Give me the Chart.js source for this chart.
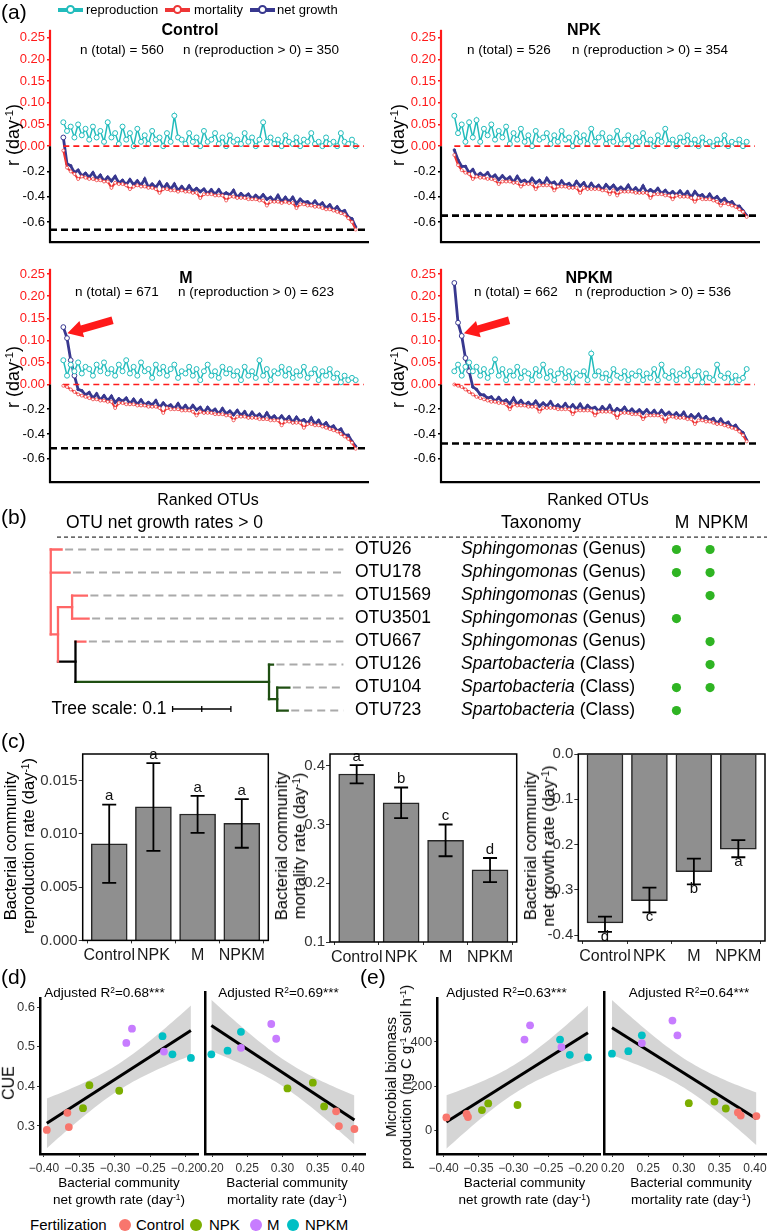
<!DOCTYPE html>
<html><head><meta charset="utf-8"><title>OTU growth rates</title>
<script src="https://cdn.jsdelivr.net/npm/chart.js@4.4.1/dist/chart.umd.min.js"></script>
<style>
html,body{margin:0;padding:0;background:#fff}
body{position:relative;width:767px;height:1231px;overflow:hidden;font-family:"Liberation Sans",Arial,Helvetica,sans-serif;color:#000}
canvas{position:absolute;display:block}
.t{position:absolute;white-space:nowrap;line-height:1.15}
.t sup{font-size:0.62em;position:relative;top:-0.5em;vertical-align:baseline;line-height:0}
.ab{position:absolute}
</style></head><body>
<script>
// ================= DATA =================
// (a) ranked OTU rates (day^-1), sampled along the rank axis
const ctrlRep = [0.055,0.035,0.045,0.02,0.05,0.025,0.04,0.015,0.045,0.02,
 0.035,0.01,0.055,0.02,0.03,0.005,0.045,0.015,0.03,0.0,
 0.04,0.01,0.025,0.005,0.035,0.015,0.02,0.0,0.03,0.01,
 0.07,0.02,0.015,0.005,0.03,0.01,0.02,0.0,0.035,0.01,
 0.015,0.03,0.005,0.02,0.0,0.025,0.01,0.015,0.005,0.03,
 0.01,0.02,0.0,0.015,0.055,0.01,0.02,0.005,0.015,0.0,
 0.025,0.01,0.005,0.02,0.0,0.015,0.01,0.03,0.005,0.01,
 0.0,0.02,0.005,0.01,0.0,0.03,0.01,0.005,0.015,0.0];
const ctrlMort = [-0.035,-0.17,-0.2,-0.22,-0.26,-0.24,-0.25,-0.26,-0.26,-0.27,
 -0.27,-0.28,-0.28,-0.33,-0.29,-0.3,-0.3,-0.31,-0.34,-0.32,
 -0.31,-0.32,-0.32,-0.33,-0.33,-0.34,-0.37,-0.34,-0.34,-0.35,
 -0.35,-0.36,-0.35,-0.36,-0.36,-0.37,-0.37,-0.41,-0.38,-0.38,
 -0.38,-0.39,-0.39,-0.39,-0.43,-0.4,-0.4,-0.41,-0.41,-0.41,
 -0.42,-0.42,-0.42,-0.43,-0.43,-0.47,-0.44,-0.44,-0.44,-0.45,
 -0.44,-0.45,-0.45,-0.49,-0.46,-0.46,-0.47,-0.47,-0.48,-0.48,
 -0.49,-0.5,-0.5,-0.51,-0.52,-0.53,-0.54,-0.57,-0.6,-0.66];
const ctrlNet = [0.02,-0.14,-0.155,-0.21,-0.19,-0.235,-0.215,-0.245,-0.21,-0.26,
 -0.23,-0.275,-0.245,-0.275,-0.24,-0.29,-0.27,-0.305,-0.265,-0.305,
 -0.275,-0.31,-0.26,-0.325,-0.3,-0.325,-0.285,-0.335,-0.3,-0.34,
 -0.3,-0.35,-0.32,-0.355,-0.315,-0.355,-0.335,-0.36,-0.34,-0.375,
 -0.345,-0.38,-0.345,-0.385,-0.37,-0.385,-0.35,-0.405,-0.375,-0.4,
 -0.38,-0.415,-0.39,-0.415,-0.385,-0.42,-0.405,-0.435,-0.39,-0.44,
 -0.405,-0.44,-0.405,-0.455,-0.42,-0.445,-0.44,-0.465,-0.435,-0.47,
 -0.45,-0.49,-0.465,-0.505,-0.48,-0.52,-0.51,-0.56,-0.575,-0.64];
const npkRep = [0.07,0.03,0.05,0.01,0.055,0.02,0.06,0.01,0.04,0.025,
 0.05,0.015,0.035,0.02,0.045,0.005,0.03,0.015,0.04,0.01,
 0.025,0.0,0.035,0.015,0.02,0.03,0.005,0.025,0.01,0.035,
 0.015,0.02,0.0,0.03,0.01,0.025,0.005,0.04,0.01,0.02,
 0.03,0.005,0.02,0.01,0.035,0.005,0.015,0.025,0.0,0.02,
 0.01,0.03,0.005,0.015,0.0,0.025,0.01,0.04,0.005,0.015,
 0.0,0.02,0.01,0.025,0.005,0.015,0.0,0.02,0.005,0.01,
 0.0,0.015,0.005,0.025,0.0,0.01,0.005,0.015,0.0,0.01];
const npkMort = [-0.07,-0.15,-0.19,-0.21,-0.22,-0.26,-0.24,-0.25,-0.25,-0.26,
 -0.26,-0.27,-0.3,-0.28,-0.28,-0.28,-0.29,-0.29,-0.32,-0.3,
 -0.3,-0.3,-0.34,-0.31,-0.31,-0.31,-0.31,-0.35,-0.32,-0.32,
 -0.32,-0.33,-0.33,-0.33,-0.37,-0.33,-0.34,-0.34,-0.34,-0.34,
 -0.35,-0.35,-0.38,-0.35,-0.39,-0.36,-0.36,-0.36,-0.36,-0.37,
 -0.37,-0.37,-0.37,-0.41,-0.38,-0.38,-0.38,-0.39,-0.39,-0.42,
 -0.39,-0.4,-0.4,-0.4,-0.41,-0.44,-0.41,-0.42,-0.42,-0.42,
 -0.43,-0.44,-0.47,-0.45,-0.46,-0.47,-0.48,-0.5,-0.52,-0.56];
const npkNet = [-0.03,-0.11,-0.16,-0.16,-0.21,-0.185,-0.235,-0.215,-0.235,-0.21,
 -0.25,-0.23,-0.265,-0.235,-0.265,-0.245,-0.285,-0.24,-0.28,-0.27,
 -0.295,-0.255,-0.29,-0.27,-0.305,-0.255,-0.295,-0.285,-0.315,-0.275,
 -0.31,-0.295,-0.325,-0.28,-0.315,-0.29,-0.335,-0.295,-0.33,-0.31,
 -0.345,-0.305,-0.335,-0.31,-0.345,-0.325,-0.35,-0.31,-0.355,-0.33,
 -0.36,-0.315,-0.365,-0.345,-0.365,-0.335,-0.375,-0.35,-0.38,-0.36,
 -0.385,-0.355,-0.39,-0.36,-0.405,-0.36,-0.395,-0.385,-0.415,-0.38,
 -0.42,-0.4,-0.435,-0.415,-0.45,-0.44,-0.475,-0.475,-0.51,-0.55];
const mRep = [0.055,0.02,0.045,0.03,0.05,0.025,0.04,0.035,0.02,0.045,
 0.03,0.05,0.025,0.035,0.02,0.045,0.03,0.055,0.025,0.04,
 0.02,0.05,0.03,0.035,0.015,0.045,0.025,0.04,0.02,0.035,
 0.045,0.015,0.03,0.025,0.04,0.02,0.035,0.01,0.03,0.045,
 0.02,0.03,0.015,0.04,0.025,0.035,0.02,0.03,0.01,0.04,
 0.02,0.03,0.015,0.055,0.02,0.035,0.01,0.03,0.025,0.04,
 0.02,0.035,0.015,0.03,0.02,0.04,0.015,0.025,0.035,0.01,
 0.03,0.02,0.035,0.015,0.025,0.005,0.02,0.01,0.015,0.01];
const mMort = [-0.01,-0.02,-0.04,-0.06,-0.08,-0.09,-0.1,-0.11,-0.12,-0.12,
 -0.13,-0.13,-0.14,-0.14,-0.19,-0.15,-0.15,-0.16,-0.16,-0.16,
 -0.17,-0.17,-0.17,-0.18,-0.18,-0.18,-0.19,-0.23,-0.19,-0.2,
 -0.2,-0.2,-0.21,-0.21,-0.21,-0.22,-0.25,-0.22,-0.23,-0.23,
 -0.23,-0.24,-0.24,-0.24,-0.25,-0.25,-0.29,-0.26,-0.26,-0.26,
 -0.27,-0.27,-0.27,-0.28,-0.28,-0.28,-0.29,-0.29,-0.29,-0.33,
 -0.3,-0.3,-0.31,-0.31,-0.31,-0.35,-0.32,-0.32,-0.33,-0.33,
 -0.34,-0.35,-0.36,-0.37,-0.38,-0.4,-0.42,-0.44,-0.47,-0.52];
const mNet = [0.13,0.105,0.055,0.02,-0.04,-0.05,-0.085,-0.065,-0.11,-0.075,
 -0.125,-0.09,-0.13,-0.095,-0.145,-0.115,-0.135,-0.11,-0.155,-0.12,
 -0.16,-0.125,-0.165,-0.145,-0.165,-0.13,-0.185,-0.15,-0.18,-0.165,
 -0.195,-0.155,-0.2,-0.17,-0.205,-0.17,-0.205,-0.185,-0.225,-0.185,
 -0.22,-0.2,-0.235,-0.195,-0.235,-0.215,-0.245,-0.21,-0.25,-0.22,
 -0.265,-0.225,-0.26,-0.24,-0.275,-0.23,-0.275,-0.255,-0.285,-0.255,
 -0.29,-0.26,-0.305,-0.265,-0.3,-0.285,-0.315,-0.27,-0.32,-0.29,
 -0.335,-0.31,-0.35,-0.335,-0.375,-0.36,-0.41,-0.41,-0.46,-0.5];
const npkmRep = [0.03,0.045,0.02,0.04,0.05,0.03,0.04,0.02,0.035,0.015,
 0.03,0.057,0.02,0.035,0.01,0.03,0.02,0.04,0.015,0.03,
 0.025,0.01,0.035,0.02,0.045,0.015,0.03,0.01,0.025,0.035,
 0.015,0.03,0.005,0.025,0.02,0.03,0.01,0.07,0.02,0.03,
 0.015,0.025,0.01,0.035,0.02,0.015,0.03,0.01,0.025,0.02,
 0.03,0.01,0.025,0.015,0.035,0.01,0.045,0.02,0.015,0.03,
 0.01,0.025,0.02,0.035,0.01,0.02,0.03,0.005,0.025,0.015,
 0.01,0.045,0.02,0.015,0.025,0.005,0.02,0.01,0.015,0.035];
const npkmMort = [0.0,-0.01,-0.02,-0.04,-0.06,-0.08,-0.1,-0.11,-0.12,-0.13,
 -0.14,-0.14,-0.15,-0.15,-0.16,-0.2,-0.16,-0.17,-0.17,-0.17,
 -0.18,-0.18,-0.18,-0.22,-0.19,-0.19,-0.19,-0.19,-0.2,-0.2,
 -0.2,-0.2,-0.24,-0.21,-0.21,-0.21,-0.21,-0.21,-0.25,-0.22,
 -0.22,-0.22,-0.22,-0.23,-0.27,-0.23,-0.23,-0.23,-0.24,-0.24,
 -0.24,-0.28,-0.25,-0.25,-0.25,-0.25,-0.26,-0.3,-0.26,-0.26,
 -0.27,-0.27,-0.27,-0.28,-0.28,-0.32,-0.29,-0.29,-0.3,-0.3,
 -0.31,-0.32,-0.32,-0.33,-0.34,-0.35,-0.36,-0.38,-0.41,-0.46];
const npkmNet = [0.23,0.14,0.11,0.06,0.03,-0.02,-0.04,-0.08,-0.085,-0.11,
 -0.1,-0.135,-0.105,-0.14,-0.125,-0.155,-0.11,-0.16,-0.13,-0.165,
 -0.145,-0.17,-0.135,-0.175,-0.15,-0.175,-0.14,-0.185,-0.165,-0.19,
 -0.155,-0.195,-0.165,-0.2,-0.16,-0.205,-0.17,-0.195,-0.185,-0.215,
 -0.18,-0.21,-0.17,-0.225,-0.195,-0.215,-0.185,-0.225,-0.2,-0.23,
 -0.205,-0.235,-0.205,-0.24,-0.21,-0.245,-0.21,-0.245,-0.225,-0.255,
 -0.23,-0.26,-0.225,-0.275,-0.245,-0.27,-0.24,-0.285,-0.26,-0.29,
 -0.275,-0.315,-0.28,-0.32,-0.305,-0.345,-0.33,-0.37,-0.39,-0.45];
const panelNames = ['Control','NPK','M','NPKM'];
const nTotal = [560, 526, 671, 662];
const nRepro = [350, 354, 623, 536];
const netThreshold = [-0.662, -0.55, -0.516, -0.477];
const rTicks = [-0.6, -0.4, -0.2, 0, 0.05, 0.1, 0.15, 0.2, 0.25];

// (b) tree: [node, parent, branch length]
const treeNodes = [
 ['A', null, 0],
 ['OTU26','A',0.0186], ['OTU178','A',0.0322], ['B','A',0.0124],
 ['C','B',0.0242], ['OTU1569','C',0.0254], ['OTU3501','C',0.0283],
 ['D','B',0.0300], ['OTU667','D',0.0170], ['E','D',0.3320],
 ['OTU126','E',0.0068], ['F','E',0.0141], ['OTU104','F',0.0208], ['OTU723','F',0.0180]
];
const otuIds = ['OTU26','OTU178','OTU1569','OTU3501','OTU667','OTU126','OTU104','OTU723'];
const taxonName = ['Sphingomonas','Sphingomonas','Sphingomonas','Sphingomonas','Sphingomonas','Spartobacteria','Spartobacteria','Spartobacteria'];
const taxonRank = ['Genus','Genus','Genus','Genus','Genus','Class','Class','Class'];
const presentM    = [1,1,0,1,0,0,1,1];
const presentNPKM = [1,1,1,0,1,1,1,0];

// (c) community rates
const treatments = ['Control','NPK','M','NPKM'];
const reproRate = [0.00907, 0.01254, 0.01187, 0.0110];
const reproLo   = [0.0054, 0.0084, 0.0101, 0.0087];
const reproHi   = [0.01275, 0.01665, 0.01357, 0.01327];
const reproLet  = ['a','a','a','a'];
const mortRate  = [0.386, 0.337, 0.273, 0.223];
const mortLo    = [0.370, 0.311, 0.246, 0.202];
const mortHi    = [0.401, 0.363, 0.300, 0.243];
const mortLet   = ['a','b','c','d'];
const netRate   = [-0.373, -0.324, -0.260, -0.210];
const netLo     = [-0.393, -0.350, -0.288, -0.228];
const netHi     = [-0.359, -0.295, -0.231, -0.190];
const netLet    = ['d','c','b','a'];

// (d)(e) sample level values
const sampleGroup = ['Control','Control','Control','NPK','NPK','NPK','M','M','M','NPKM','NPKM','NPKM'];
const sampleNet  = [-0.396,-0.367,-0.365,-0.345,-0.336,-0.294,-0.284,-0.276,-0.231,-0.233,-0.219,-0.193];
const sampleMort = [0.402,0.376,0.380,0.359,0.343,0.307,0.291,0.284,0.241,0.241,0.222,0.199];
const sampleCUE  = [0.290,0.333,0.297,0.345,0.403,0.389,0.510,0.546,0.488,0.527,0.481,0.472];
const sampleMBP  = [60,76,62,93,123,116,411,475,377,411,342,331];
const adjR2 = ['0.68','0.69','0.63','0.64'];

// ================= STYLE / HELPERS =================
const FONT = '"Liberation Sans", Arial, Helvetica, sans-serif';
const RED = '#ff1a1a', CYAN = '#22bcbc', MORT = '#ee3636', NAVY = '#38388f';
const groupColors = {Control:'#F8766D', NPK:'#7CAE00', M:'#C77CFF', NPKM:'#00BFC4'};
Chart.defaults.font.family = FONT;
Chart.defaults.color = '#222';
Chart.defaults.animation = false;
Chart.defaults.responsive = false;
Chart.defaults.events = [];
Chart.defaults.plugins.legend.display = false;
Chart.defaults.plugins.tooltip.enabled = false;

class BrokenLinear extends Chart.LinearScale {
  static id = 'brokenLinear';
  static defaults = Chart.LinearScale.defaults;
  determineDataLimits() { this.min = this.options.min; this.max = this.options.max; }
  buildTicks() { return rTicks.map(v => ({value: v})); }
  _dec(v) { const z = this.options.zeroFrac; return v < 0 ? z * (v - this.min) / (0 - this.min) : z + (1 - z) * v / this.max; }
  getPixelForValue(v) { if (v === null || v === undefined || isNaN(v)) return NaN; return this.getPixelForDecimal(this._dec(v)); }
  getValueForPixel(p) { const d = this.getDecimalForPixel(p), z = this.options.zeroFrac; return d < z ? this.min + (d / z) * (0 - this.min) : (d - z) / (1 - z) * this.max; }
}
Chart.register(BrokenLinear);

function txt(html, x, y, o = {}) {
  const d = document.createElement('div');
  d.className = 't'; d.innerHTML = html;
  d.style.left = x + 'px'; d.style.top = y + 'px';
  d.style.fontSize = (o.s || 14) + 'px';
  if (o.b) d.style.fontWeight = 'bold';
  if (o.i) d.style.fontStyle = 'italic';
  d.style.color = o.c || '#000';
  if (o.lh) d.style.lineHeight = o.lh + 'px';
  d.style.textAlign = 'center';
  const ax = o.a === 'l' ? '0' : (o.a === 'r' ? '-100%' : '-50%');
  d.style.transform = 'translate(' + ax + ',-50%)' + (o.rot ? ' rotate(-90deg)' : '');
  document.body.appendChild(d);
  return d;
}
function box(x, y, w, h, css) {
  const d = document.createElement('div'); d.className = 'ab';
  d.style.left = x + 'px'; d.style.top = y + 'px'; d.style.width = w + 'px'; d.style.height = h + 'px';
  Object.assign(d.style, css); document.body.appendChild(d); return d;
}
function mk(area, axW, axH, pad, cfg) {
  const c = document.createElement('canvas');
  const L = Math.round(area.x0 - axW - pad.l), T0 = Math.round(area.y0 - pad.t);
  const R = Math.round(area.x1 + pad.r), B = Math.round(area.y1 + axH + pad.b);
  c.width = R - L; c.height = B - T0;
  c.style.left = L + 'px'; c.style.top = T0 + 'px';
  c.style.width = (R - L) + 'px'; c.style.height = (B - T0) + 'px';
  document.body.appendChild(c);
  cfg.options = cfg.options || {};
  cfg.options.maintainAspectRatio = false;
  cfg.options.layout = {padding: {left: area.x0 - axW - L, right: R - area.x1, top: area.y0 - T0, bottom: B - area.y1 - axH}};
  return new Chart(c, cfg);
}

// ================= PANEL (a) =================
function panelA(area, rep, mort, net, yMin, yMax, zeroFrac, threshold, arrowAt) {
  const xy = a => a.map((v, i) => ({x: i, y: v}));
  const deco = {
    id: 'decoA',
    afterDraw(chart) {
      const {ctx, chartArea: ca, scales: {x, y}} = chart;
      const y0 = y.getPixelForValue(0);
      ctx.save();
      ctx.setLineDash([6, 4]); ctx.lineWidth = 1.6; ctx.strokeStyle = RED;
      ctx.beginPath(); ctx.moveTo(x.getPixelForValue(0), y0); ctx.lineTo(ca.right - 5, y0); ctx.stroke();
      ctx.setLineDash([7, 4]); ctx.lineWidth = 2.6; ctx.strokeStyle = '#000';
      const yt = y.getPixelForValue(threshold);
      ctx.beginPath(); ctx.moveTo(ca.left, yt); ctx.lineTo(ca.right, yt); ctx.stroke();
      ctx.setLineDash([]);
      ctx.lineWidth = 2.2; ctx.strokeStyle = RED;
      ctx.beginPath(); ctx.moveTo(ca.left, y0); ctx.lineTo(ca.left, ca.top); ctx.stroke();
      ctx.strokeStyle = '#000';
      ctx.beginPath(); ctx.moveTo(ca.left, y0); ctx.lineTo(ca.left, ca.bottom); ctx.lineTo(ca.right, ca.bottom); ctx.stroke();
      if (arrowAt) {
        const tx = x.getPixelForValue(arrowAt.x), ty = y.getPixelForValue(arrowAt.y);
        const ang = Math.atan2(13, -45);
        ctx.translate(tx, ty); ctx.rotate(ang);
        ctx.fillStyle = RED; ctx.beginPath();
        ctx.moveTo(0, 0); ctx.lineTo(-15, -8.5); ctx.lineTo(-15, -3.8); ctx.lineTo(-47, -3.8);
        ctx.lineTo(-47, 3.8); ctx.lineTo(-15, 3.8); ctx.lineTo(-15, 8.5); ctx.closePath(); ctx.fill();
      }
      ctx.restore();
    }
  };
  const tickCol = c => (c.tick && c.tick.value >= 0) ? RED : '#000';
  const posPt = c => (c.raw && c.raw.y > 0);
  return mk(area, 50, 0, {l: 0, r: 4, t: 4, b: 4}, {
    type: 'line',
    data: {datasets: [
      {data: xy(rep), borderColor: CYAN, borderWidth: 1.5, pointRadius: 2.5, pointBorderWidth: 1, pointBackgroundColor: '#fff', pointBorderColor: CYAN, tension: 0},
      {data: xy(mort), borderColor: MORT, borderWidth: 2, pointRadius: 1.5, pointBorderWidth: 0.7, pointBackgroundColor: '#fff', pointBorderColor: MORT, tension: 0},
      {data: xy(net), borderColor: NAVY, borderWidth: 2.8, tension: 0,
       pointRadius: c => posPt(c) ? 2.4 : 1.2, pointBorderWidth: 1,
       pointBackgroundColor: c => posPt(c) ? '#fff' : NAVY, pointBorderColor: NAVY}
    ]},
    options: {
      scales: {
        x: {type: 'linear', display: false, min: -3.6, max: 82.6},
        y: {type: 'brokenLinear', min: yMin, max: yMax, zeroFrac: zeroFrac,
            grid: {drawOnChartArea: false, drawTicks: true, tickLength: 3, lineWidth: 1.5, color: tickCol},
            border: {display: false},
            ticks: {font: {size: 13}, padding: 2, color: tickCol, callback: v => v < 0 ? v.toFixed(1) : v.toFixed(2)},
            afterFit: s => { s.width = 50; }}
      }
    },
    plugins: [deco]
  });
}
const topY = {min: -0.76, max: 0.268, z: 0.4522};
const botY = {min: -0.79, max: 0.262, z: 0.4578};
panelA({x0: 50, x1: 370, y0: 24, y1: 248}, ctrlRep, ctrlMort, ctrlNet, topY.min, topY.max, topY.z, netThreshold[0], null);
panelA({x0: 441, x1: 761, y0: 24, y1: 248}, npkRep, npkMort, npkNet, topY.min, topY.max, topY.z, netThreshold[1], null);
panelA({x0: 50, x1: 370, y0: 263, y1: 488}, mRep, mMort, mNet, botY.min, botY.max, botY.z, netThreshold[2], {x: 1.1, y: 0.116});
panelA({x0: 441, x1: 761, y0: 263, y1: 488}, npkmRep, npkmMort, npkmNet, botY.min, botY.max, botY.z, netThreshold[3], {x: 2.6, y: 0.116});

txt('(a)', 1, 12, {a: 'l', s: 21});
function legA(x, color, label, lx) {
  box(x, 7.5, 25, 4, {background: color});
  box(x + 8, 5, 9, 9, {boxSizing: 'border-box', border: '2px solid ' + color, borderRadius: '50%', background: '#fff'});
  txt(label, lx, 9.5, {a: 'l', s: 13});
}
legA(58, CYAN, 'reproduction', 86);
legA(165, MORT, 'mortality', 194);
legA(250, NAVY, 'net growth', 277);
const titlePos = [[190, 30, 80, 183, 50], [584, 30, 467, 572, 50], [186, 278, 75, 178, 292], [589, 278, 474, 575, 292]];
titlePos.forEach((p, i) => {
  txt(panelNames[i], p[0], p[1], {s: 16, b: true});
  txt('n (total) = ' + nTotal[i], p[2], p[4], {a: 'l', s: 13.5});
  txt('n (reproduction &gt; 0) = ' + nRepro[i], p[3], p[4], {a: 'l', s: 13.5});
});
[[13, 135], [398, 135], [13, 377], [398, 377]].forEach(p => txt('r (day<sup>-1</sup>)', p[0], p[1], {s: 18, rot: true}));
txt('Ranked OTUs', 208, 500, {s: 16});
txt('Ranked OTUs', 598, 500, {s: 16});

// ================= PANEL (b) =================
(function () {
  const nodes = {}; const order = [];
  treeNodes.forEach(([id, parent, len]) => { nodes[id] = {id, parent, len, children: []}; order.push(id); });
  order.forEach(id => { const n = nodes[id]; if (n.parent) nodes[n.parent].children.push(n); });
  let leafRow = 0;
  (function lay(n, x0) {
    n.x = x0 + n.len;
    if (!n.children.length) { n.y = ++leafRow; return; }
    n.children.forEach(c => lay(c, n.x));
    n.y = (n.children[0].y + n.children[n.children.length - 1].y) / 2;
  })(nodes['A'], 0);
  const PINK = '#ff6666', GREEN = '#1f4f12';
  const internalColor = {A: PINK, B: PINK, C: PINK, D: '#000', E: GREEN, F: GREEN};
  const colorOf = n => internalColor[n.id] || (taxonName[otuIds.indexOf(n.id)] === 'Sphingomonas' ? PINK : GREEN);
  const seg = (x1, y1, x2, y2, col, extra) => Object.assign({data: [{x: x1, y: y1}, {x: x2, y: y2}], borderColor: col, borderWidth: 2.3, pointRadius: 0, xAxisID: 'x', yAxisID: 'y', borderCapStyle: 'square'}, extra || {});
  const ds = [];
  const LEADER_END = 0.502;
  order.forEach(id => {
    const n = nodes[id];
    if (n.parent) { const p = nodes[n.parent]; ds.push(seg(p.x, n.y, n.x, n.y, colorOf(n))); }
    if (n.children.length) ds.push(seg(n.x, n.children[0].y, n.x, n.children[n.children.length - 1].y, colorOf(n)));
    else ds.push(seg(n.x + 0.006, n.y, LEADER_END, n.y, '#aaaaaa', {borderDash: [8, 5], borderWidth: 2, borderCapStyle: 'butt'}));
  });
  const dots = [];
  otuIds.forEach((id, i) => { if (presentM[i]) dots.push({x: 1, y: i + 1}); if (presentNPKM[i]) dots.push({x: 2, y: i + 1}); });
  ds.unshift({data: dots, showLine: false, pointRadius: 4.6, pointBackgroundColor: '#2fb423', pointBorderWidth: 0, xAxisID: 'xd', yAxisID: 'y'});
  const deco = {
    id: 'decoB',
    afterDraw(chart) {
      const {ctx, scales: {x, y}} = chart;
      ctx.save();
      ctx.strokeStyle = '#000'; ctx.lineWidth = 1; ctx.setLineDash([4, 3]);
      const yh = y.getPixelForValue(0.46);
      ctx.beginPath(); ctx.moveTo(57, yh); ctx.lineTo(767, yh); ctx.stroke(); ctx.setLineDash([]);
      ctx.fillStyle = '#000'; ctx.textBaseline = 'middle'; ctx.textAlign = 'left';
      otuIds.forEach((id, i) => {
        const py = y.getPixelForValue(i + 1);
        ctx.font = '17.5px ' + FONT; ctx.fillText(id, 355, py);
        ctx.font = 'italic 17.5px ' + FONT; ctx.fillText(taxonName[i], 461, py);
        const w = ctx.measureText(taxonName[i]).width;
        ctx.font = '17.5px ' + FONT; ctx.fillText(' (' + taxonRank[i] + ')', 461 + w, py);
      });
      const sy = y.getPixelForValue(7.93), sx1 = x.getPixelForValue(0.209), sx2 = x.getPixelForValue(0.309);
      ctx.lineWidth = 1.3; ctx.strokeStyle = '#000';
      ctx.beginPath(); ctx.moveTo(sx1, sy); ctx.lineTo(sx2, sy);
      [sx1, (sx1 + sx2) / 2, sx2].forEach(px => { ctx.moveTo(px, sy - 3); ctx.lineTo(px, sy + 3); });
      ctx.stroke();
      ctx.font = '17.5px ' + FONT; ctx.textAlign = 'right'; ctx.fillText('Tree scale: 0.1', sx1 - 6, sy);
      ctx.restore();
    }
  };
  mk({x0: 0, x1: 767, y0: 514.7, y1: 728.7}, 0, 0, {l: 0, r: 0, t: 0, b: 0}, {
    type: 'line',
    data: {datasets: ds},
    options: {
      scales: {
        x: {type: 'linear', display: false, min: -0.0792, max: 1.2208},
        xd: {type: 'linear', display: false, min: -19, max: 3.558},
        y: {type: 'linear', display: false, min: -0.3, max: 8.6, reverse: true}
      }
    },
    plugins: [deco]
  });
})();
txt('(b)', 1, 517, {a: 'l', s: 21});
txt('OTU net growth rates &gt; 0', 66, 522, {a: 'l', s: 17.5});
txt('Taxonomy', 541, 522, {s: 17.5});
txt('M', 682, 522, {s: 17.5});
txt('NPKM', 723, 522, {s: 17.5});

// ================= PANEL (c) =================
function barPanel(area, axW, vals, lo, hi, letters, below, yMin, yMax, step, dec) {
  const deco = {
    id: 'decoC',
    afterDatasetsDraw(chart) {
      const {ctx, chartArea: ca, scales: {x, y}} = chart;
      ctx.save();
      ctx.strokeStyle = '#000'; ctx.lineWidth = 1.8; ctx.fillStyle = '#111';
      ctx.font = '15px ' + FONT; ctx.textAlign = 'center';
      vals.forEach((v, i) => {
        const px = x.getPixelForValue(i + 1), yh = y.getPixelForValue(hi[i]), yl = y.getPixelForValue(lo[i]);
        ctx.beginPath(); ctx.moveTo(px, yh); ctx.lineTo(px, yl);
        ctx.moveTo(px - 7, yh); ctx.lineTo(px + 7, yh); ctx.moveTo(px - 7, yl); ctx.lineTo(px + 7, yl); ctx.stroke();
        if (below) { ctx.textBaseline = 'top'; ctx.fillText(letters[i], px, yl - 3); }
        else { ctx.textBaseline = 'bottom'; ctx.fillText(letters[i], px, yh - 1); }
      });
      ctx.lineWidth = 1.5; ctx.strokeRect(ca.left, ca.top, ca.width, ca.height);
      ctx.restore();
    }
  };
  return mk(area, axW, 30, {l: 0, r: 3, t: 6, b: 0}, {
    type: 'bar',
    data: {datasets: [{data: vals.map((v, i) => ({x: i + 1, y: v})), backgroundColor: '#8f8f8f', borderColor: '#262626', borderWidth: 1.5, barThickness: 36}]},
    options: {
      scales: {
        x: {type: 'linear', offset: false, min: 0.4, max: 4.6,
            grid: {display: true, drawOnChartArea: false, drawTicks: true, tickLength: 3, color: '#333'},
            border: {display: false},
            ticks: {stepSize: 1, includeBounds: false, autoSkip: false, maxRotation: 0, font: {size: 16}, color: '#1a1a1a', padding: 3, callback: v => treatments[v - 1] || ''},
            afterBuildTicks: s => { s.ticks = s.ticks.filter(t => Number.isInteger(t.value) && t.value >= 1 && t.value <= 4); },
            afterFit: s => { s.height = 30; }},
        y: {type: 'linear', min: yMin, max: yMax,
            grid: {display: true, drawOnChartArea: false, drawTicks: true, tickLength: 4, color: '#333'},
            border: {display: false},
            ticks: {stepSize: step, includeBounds: false, font: {size: 15}, color: '#333', padding: 1, callback: v => v.toFixed(dec)},
            afterFit: s => { s.width = axW; }}
      }
    },
    plugins: [deco]
  });
}
barPanel({x0: 82.7, x1: 268.3, y0: 750, y1: 940.4}, 60, reproRate, reproLo, reproHi, reproLet, false, 0, 0.0175, 0.005, 3);
barPanel({x0: 330, x1: 516.7, y0: 750, y1: 942}, 40, mortRate, mortLo, mortHi, mortLet, false, 0.1, 0.42, 0.1, 1);
barPanel({x0: 578.3, x1: 765, y0: 750, y1: 941}, 40, netRate, netLo, netHi, netLet, true, -0.413, 0, 0.1, 1);
txt('(c)', 1, 741, {a: 'l', s: 21});
txt('Bacterial community<br>reproduction rate (day<sup>-1</sup>)', 19, 846, {s: 16.5, lh: 18, rot: true});
txt('Bacterial community<br>mortality rate (day<sup>-1</sup>)', 290, 846, {s: 16.5, lh: 18, rot: true});
txt('Bacterial community<br>net growth rate (day<sup>-1</sup>)', 538.5, 846, {s: 16.5, lh: 18, rot: true});

// ================= PANELS (d)(e) =================
function fitPanel(area, axW, xs, ys, xMin, xMax, yMin, yMax, yStep, showY, yDec) {
  const groups = ['Control', 'NPK', 'M', 'NPKM'];
  const pts = groups.map(g => ({
    data: xs.map((x, i) => ({x: x, y: ys[i], g: sampleGroup[i]})).filter(p => p.g === g),
    showLine: false, pointRadius: 3.9, pointBorderWidth: 0, pointBackgroundColor: groupColors[g]
  }));
  const n = xs.length;
  const mx = xs.reduce((a, b) => a + b, 0) / n, my = ys.reduce((a, b) => a + b, 0) / n;
  let sxx = 0, sxy = 0;
  xs.forEach((x, i) => { sxx += (x - mx) * (x - mx); sxy += (x - mx) * (ys[i] - my); });
  const b = sxy / sxx, a0 = my - b * mx;
  let sse = 0; xs.forEach((x, i) => { const r = ys[i] - (a0 + b * x); sse += r * r; });
  const s = Math.sqrt(sse / (n - 2)), tq = 2.228;
  const x0 = Math.min(...xs), x1 = Math.max(...xs);
  const up = [], lo = [];
  for (let k = 0; k <= 40; k++) {
    const x = x0 + (x1 - x0) * k / 40, f = a0 + b * x;
    const se = s * Math.sqrt(1 / n + (x - mx) * (x - mx) / sxx);
    up.push({x: x, y: f + tq * se}); lo.push({x: x, y: f - tq * se});
  }
  const ds = pts.concat([
    {data: [{x: x0, y: a0 + b * x0}, {x: x1, y: a0 + b * x1}], borderColor: '#000', borderWidth: 3, pointRadius: 0},
    {data: up, borderWidth: 0, pointRadius: 0, fill: false, borderColor: 'rgba(0,0,0,0)'},
    {data: lo, borderWidth: 0, pointRadius: 0, fill: '-1', borderColor: 'rgba(0,0,0,0)', backgroundColor: 'rgba(150,150,150,0.4)'}
  ]);
  return mk(area, axW, 26, {l: 12, r: 12, t: 4, b: 2}, {
    type: 'line',
    data: {datasets: ds},
    options: {
      scales: {
        x: {type: 'linear', min: xMin, max: xMax,
            grid: {drawOnChartArea: false, drawTicks: true, tickLength: 3, color: '#333'},
            border: {display: true, color: '#000', width: 2.5},
            ticks: {stepSize: 0.05, includeBounds: false, autoSkip: false, maxRotation: 0, font: {size: 12}, color: '#333', padding: 4,
                    callback: v => v.toFixed(2).replace('-', '\u2212')},
            afterFit: sc => { sc.height = 26; }},
        y: {type: 'linear', min: yMin, max: yMax,
            grid: {drawOnChartArea: false, drawTicks: showY, tickLength: 3, color: '#333'},
            border: {display: true, color: '#000', width: 2.5},
            ticks: {display: showY, stepSize: yStep, includeBounds: false, font: {size: 13}, color: '#333', padding: 2, callback: v => v.toFixed(yDec)},
            afterFit: sc => { sc.width = axW; }}
      }
    }
  });
}
fitPanel({x0: 40, x1: 198, y0: 992, y1: 1154}, 30, sampleNet, sampleCUE, -0.4056, -0.183, 0.229, 0.624, 0.1, true, 1);
fitPanel({x0: 205, x1: 365, y0: 992, y1: 1154}, 0, sampleMort, sampleCUE, 0.19, 0.417, 0.229, 0.624, 0.1, false, 1);
fitPanel({x0: 437.3, x1: 600.5, y0: 992, y1: 1154}, 34, sampleNet, sampleMBP, -0.409, -0.175, -104.7, 599, 200, true, 0);
fitPanel({x0: 604, x1: 766, y0: 992, y1: 1154}, 0, sampleMort, sampleMBP, 0.1878, 0.4155, -104.7, 599, 200, false, 0);

txt('(d)', 1, 977, {a: 'l', s: 21});
txt('(e)', 360, 977, {a: 'l', s: 21});
txt('CUE', 9, 1083, {s: 16, rot: true});
txt('Microbial biomass<br>production (ng C g<sup>-1</sup> soil h<sup>-1</sup>)', 398, 1077, {s: 15, lh: 15, rot: true});
[[104.5, 0], [278.5, 1], [506.5, 2], [689, 3]].forEach(p => txt('Adjusted R<sup>2</sup>=' + adjR2[p[1]] + '***', p[0], 993, {s: 13.5}));
[[119, 'net growth rate'], [287, 'mortality rate'], [524.5, 'net growth rate'], [691, 'mortality rate']].forEach(p => {
  txt('Bacterial community', p[0], 1183, {s: 13.5});
  txt(p[1] + ' (day<sup>-1</sup>)', p[0], 1200, {s: 13.5});
});
txt('Fertilization', 30, 1225, {a: 'l', s: 15});
[['Control', 125, 136], ['NPK', 196, 209], ['M', 256, 267], ['NPKM', 293, 305]].forEach(p => {
  box(p[1] - 6, 1219, 12, 12, {borderRadius: '50%', background: groupColors[p[0]]});
  txt(p[0], p[2], 1225, {a: 'l', s: 15});
});
</script>
</body></html>
